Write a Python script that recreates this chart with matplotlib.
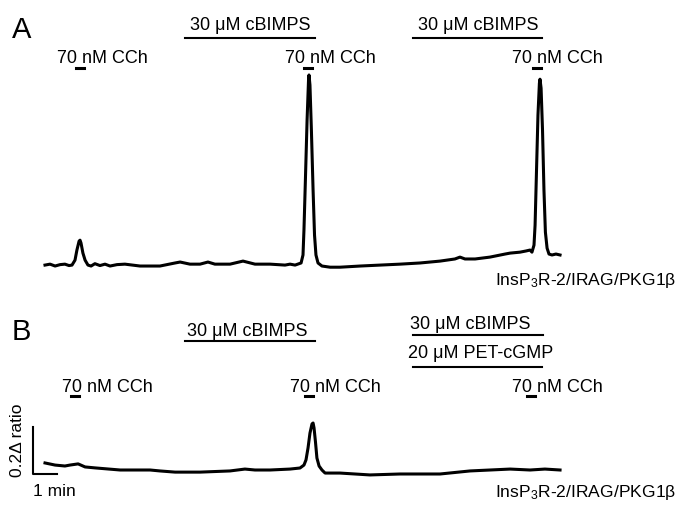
import matplotlib.pyplot as plt
import numpy as np

plt.rcParams['font.family'] = ['Liberation Sans', 'DejaVu Sans']
plt.rcParams['mathtext.default'] = 'regular'

# Trace A: time (min), delta ratio
time_a = [0.0, 0.21, 0.42, 0.63, 0.83, 1.0, 1.125, 1.25, 1.33, 1.42, 1.46, 1.5, 1.58,
          1.67, 1.79, 1.92, 2.08, 2.29, 2.5, 2.71, 3.0, 3.33, 3.96, 4.79, 5.42, 5.63,
          6.04, 6.46, 6.79, 7.08, 7.71, 8.25, 8.75, 9.38, 10.0, 10.21, 10.42, 10.67,
          10.75, 10.79, 10.85, 10.92, 10.98, 11.0, 11.04, 11.10, 11.17, 11.23, 11.29,
          11.375, 11.54, 11.88, 12.29, 13.13, 13.96, 14.79, 15.63, 16.46, 17.08,
          17.29, 17.5, 17.92, 18.54, 19.17, 19.38, 19.79, 20.04, 20.21, 20.29, 20.375,
          20.42, 20.48, 20.54, 20.6, 20.625, 20.67, 20.73, 20.79, 20.85, 20.92, 21.0,
          21.125, 21.29, 21.46]
ratio_a = [0.0, 0.004, -0.004, 0.002, 0.004, -0.002, 0.0, 0.021, 0.064, 0.102, 0.106, 0.094,
           0.051, 0.021, 0.0, -0.004, 0.006, -0.002, 0.004, -0.004, 0.002, 0.004, -0.004,
           -0.004, 0.009, 0.013, 0.004, 0.004, 0.013, 0.004, 0.004, 0.017, 0.004, 0.004,
           0.0, 0.004, 0.0, 0.009, 0.043, 0.149, 0.362, 0.617, 0.787, 0.809, 0.766, 0.574,
           0.319, 0.128, 0.043, 0.009, -0.004, -0.009, -0.009, -0.004, 0.0, 0.004, 0.009,
           0.017, 0.026, 0.034, 0.026, 0.026, 0.034, 0.047, 0.051, 0.055, 0.06, 0.064,
           0.055, 0.085, 0.17, 0.404, 0.638, 0.774, 0.791, 0.753, 0.574, 0.319, 0.14,
           0.072, 0.047, 0.043, 0.047, 0.043]

# Trace B
time_b = [0.0, 0.42, 0.83, 1.04, 1.38, 1.67, 2.08, 3.13, 4.38, 4.79, 5.42, 6.46,
          7.71, 8.33, 8.75, 9.38, 10.21, 10.625, 10.79, 10.875, 10.96, 11.04, 11.125,
          11.17, 11.21, 11.27, 11.33, 11.42, 11.54, 11.67, 12.29, 13.54, 14.79, 16.46,
          17.71, 19.38, 20.21, 20.83, 21.46]
ratio_b = [0.03, 0.021, 0.017, 0.021, 0.026, 0.013, 0.009, 0.0, 0.0, -0.004, -0.009, -0.009,
           -0.004, 0.004, 0.0, 0.0, 0.004, 0.0085, 0.021, 0.043, 0.094, 0.157, 0.196,
           0.2, 0.179, 0.119, 0.051, 0.017, 0.0, -0.013, -0.013, -0.021, -0.017, -0.017,
           -0.004, 0.004, 0.0, 0.004, 0.0]

# Treatments
cch_a = [1.46, 10.96, 20.5]
cbimps_a = [(5.83, 11.25), (15.33, 20.71)]
cch_b = [1.25, 11.0, 20.25]
cbimps_b = [(5.83, 11.25), (15.33, 20.75)]
pet_b = [(15.33, 20.71)]

CCH_TEXT = '70 nM CCh'
CBIMPS_TEXT = '30 \u03bcM cBIMPS'
PET_TEXT = '20 \u03bcM PET-cGMP'
CELL_TEXT = 'InsP$_3$R-2/IRAG/PKG1\u03b2'

FS = 13
XLIM = (-1.875, 26.5)

fig = plt.figure(figsize=(6.81, 5.08), dpi=100)
ax_a = fig.add_axes([0, 1 - 290 / 508, 1, 290 / 508])
ax_b = fig.add_axes([0, 0, 1, 218 / 508])
ax_a.set_xlim(XLIM)
ax_a.set_ylim(-0.106, 1.128)
ax_b.set_xlim(XLIM)
ax_b.set_ylim(-0.1617, 0.766)
for ax in (ax_a, ax_b):
    ax.axis('off')

ax_a.plot(time_a, ratio_a, color='black', lw=2.2, solid_joinstyle='round')
ax_b.plot(time_b, ratio_b, color='black', lw=2.2, solid_joinstyle='round')

# Panel A annotations
ax_a.text(-1.375, 0.966, 'A', fontsize=21, va='baseline')
for t0, t1 in cbimps_a:
    ax_a.plot([t0, t1], [0.966, 0.966], color='black', lw=1.5)
    ax_a.text(t0 + 0.2, 1.0, CBIMPS_TEXT, fontsize=FS, va='baseline')
for t, off in zip(cch_a, [0.95, 0.96, 1.05]):
    ax_a.plot([t - 0.16, t + 0.16], [0.838, 0.838], color='black', lw=2.2)
    ax_a.text(t - off, 0.86, CCH_TEXT, fontsize=FS, va='baseline')
ax_a.text(18.75, -0.085, CELL_TEXT, fontsize=12.6, va='baseline')

# Panel B annotations
ax_b.text(-1.375, 0.553, 'B', fontsize=21, va='baseline')
ax_b.plot(list(cbimps_b[0]), [0.549, 0.549], color='black', lw=1.5)
ax_b.text(cbimps_b[0][0] + 0.08, 0.570, CBIMPS_TEXT, fontsize=FS, va='baseline')
ax_b.plot(list(cbimps_b[1]), [0.574, 0.574], color='black', lw=1.5)
ax_b.text(cbimps_b[1][0] - 0.12, 0.6, CBIMPS_TEXT, fontsize=FS, va='baseline')
for t0, t1 in pet_b:
    ax_b.plot([t0, t1], [0.438, 0.438], color='black', lw=1.5)
    ax_b.text(t0 - 0.2, 0.477, PET_TEXT, fontsize=FS, va='baseline')
for t, off in zip(cch_b, [0.55, 0.8, 0.8]):
    ax_b.plot([t - 0.16, t + 0.16], [0.315, 0.315], color='black', lw=2.2)
    ax_b.text(t - off, 0.332, CCH_TEXT, fontsize=FS, va='baseline')
ax_b.text(18.75, -0.115, CELL_TEXT, fontsize=12.6, va='baseline')

# Scale bar: 1 min, 0.2 delta ratio
ax_b.plot([-0.5, -0.5, 0.5], [0.183, -0.017, -0.017], color='black', lw=1.5)
ax_b.text(-1.125, 0.128, '0.2\u0394 ratio', fontsize=12.5, rotation=90,
          ha='center', va='center')
ax_b.text(-0.5, -0.11, '1 min', fontsize=12.5, va='baseline')

fig.savefig('out.png', dpi=100)
